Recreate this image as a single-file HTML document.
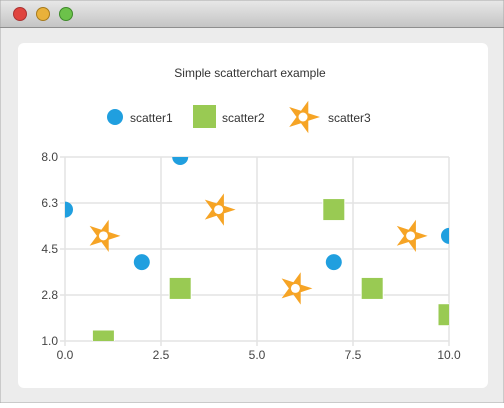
<!DOCTYPE html>
<html><head><meta charset="utf-8"><style>
body{margin:0;width:504px;height:403px;overflow:hidden;background:#fff;font-family:"Liberation Sans",sans-serif}
</style></head><body>
<svg width="504" height="403" xmlns="http://www.w3.org/2000/svg">
<defs>
<linearGradient id="tb" x1="0" y1="0" x2="0" y2="1"><stop offset="0" stop-color="#e8e8e8"/><stop offset="1" stop-color="#c4c4c4"/></linearGradient>
<clipPath id="plotclip"><rect x="65" y="157" width="384" height="184"/></clipPath>
</defs>
<rect x="0" y="0" width="504" height="403" fill="#ececec" stroke="#a8a8a8"/>
<rect x="0.5" y="0.5" width="503" height="27" fill="url(#tb)"/>
<line x1="0" y1="27.5" x2="504" y2="27.5" stroke="#8e8e8e"/>
<circle cx="20" cy="14" r="6.5" fill="#e0443e" stroke="#a33"/>
<circle cx="43" cy="14" r="6.5" fill="#e9b13a" stroke="#a77a1c"/>
<circle cx="66" cy="14" r="6.5" fill="#6cc24a" stroke="#3e8a2a"/>
<rect x="18" y="43" width="470" height="345" rx="6" fill="#fff"/>
<text x="250" y="77" text-anchor="middle" font-size="12" fill="#333">Simple scatterchart example</text>
<g>
<g><circle cx="115" cy="117" r="8" fill="#209fdf"/><text x="130" y="122" font-size="12" fill="#333">scatter1</text></g>
<g><rect x="193" y="105" width="23" height="23" fill="#99ca53"/><text x="222" y="122" font-size="12" fill="#333">scatter2</text></g>
<g id="legstar"><text x="328" y="122" font-size="12" fill="#333">scatter3</text></g>
</g>
<g id="grid"></g>
<g id="axes"></g>
<g id="marks" clip-path="url(#plotclip)"></g>
</svg>
<script>
const xTicks=[0,2.5,5,7.5,10];
const xTickLabels=["0.0","2.5","5.0","7.5","10.0"];
const yTicks=[1,2.75,4.5,6.25,8];
const yTickLabels=["1.0","2.8","4.5","6.3","8.0"];
const s1x=[0,2,3,7,10];
const s1y=[6,4,8,4,5];
const s2x=[1,3,7,8,10];
const s2y=[1,3,6,3,2];
const s3x=[1,4,6,9];
const s3y=[5,6,3,5];
const NS="http://www.w3.org/2000/svg";
const X=v=>65+(v-0)/10*384;
const Y=v=>341-(v-1)/7*184;
function mk(t,a,p){const e=document.createElementNS(NS,t);for(const k in a)e.setAttribute(k,a[k]);p.appendChild(e);return e;}
const grid=document.getElementById('grid'),axes=document.getElementById('axes'),marks=document.getElementById('marks');
xTicks.forEach((v,i)=>{
 const l=mk('line',{x1:X(v),x2:X(v),y1:157,y2:346,stroke:'#e3e3e3','stroke-width':1.5},grid);
 
 
 const t=mk('text',{x:X(v),y:359,'text-anchor':'middle','font-size':12,fill:'#444'},axes);
 t.textContent=xTickLabels[i];
 
 
});
yTicks.forEach((v,i)=>{
 const l=mk('line',{x1:60,x2:449,y1:Y(v),y2:Y(v),stroke:'#e3e3e3','stroke-width':1.5},grid);
 
 
 const t=mk('text',{x:58,y:Y(v)+4,'text-anchor':'end','font-size':12,fill:'#444'},axes);
 t.textContent=yTickLabels[i];
 
 
});
function starPts(cx,cy,R,r){let p=[];for(let i=0;i<10;i++){const a=i*Math.PI/5;const rr=i%2?r:R;p.push((cx+rr*Math.cos(a)).toFixed(1)+','+(cy+rr*Math.sin(a)).toFixed(1));}return p.join(' ');}
function star(cx,cy,parent){
 const g=mk('g',{},parent);
 mk('polygon',{points:starPts(cx,cy,17,6.5),fill:'#f6a425'},g);
 mk('circle',{cx:cx,cy:cy,r:4.5,fill:'#fff'},g);
 return g;
}
const ls=star(303,117,document.getElementById('legstar'));
s1x.forEach((v,i)=>{
 const c=mk('circle',{cx:X(v),cy:Y(s1y[i]),r:8,fill:'#209fdf'},marks);
 
 
});
s2x.forEach((v,i)=>{
 const r=mk('rect',{x:X(v)-11,y:Y(s2y[i])-11,width:22,height:22,fill:'#99ca53',stroke:'#fff','stroke-width':1},marks);
 
 
});
s3x.forEach((v,i)=>{
 const g=star(X(v),Y(s3y[i]),marks);
 
 
});
</script>
</body></html>
